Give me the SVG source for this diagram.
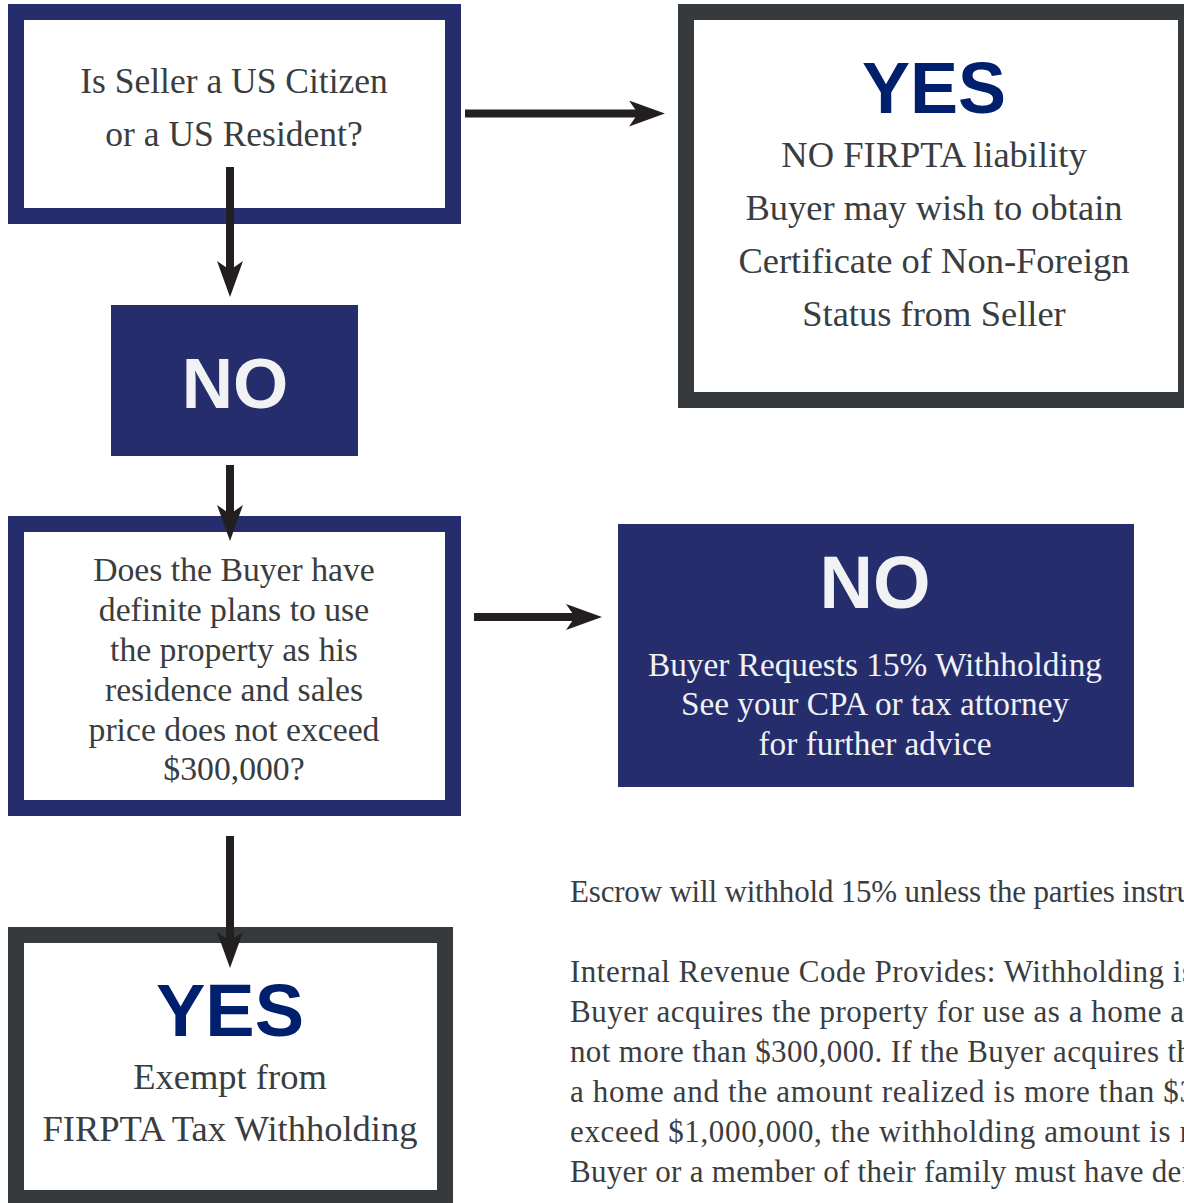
<svg xmlns="http://www.w3.org/2000/svg" width="1184" height="1203" viewBox="0 0 1184 1203">
<style>
.navybox{fill:#fff;stroke:#252d6c;stroke-width:16}
.graybox{fill:#fff;stroke:#363a3d;stroke-width:16}
.navyfill{fill:#252d6c}
.t{font-family:"Liberation Serif",serif;fill:#3a3d40;text-anchor:middle}
.w{font-family:"Liberation Serif",serif;fill:#f1f2f4;text-anchor:middle}
.big{font-family:"Liberation Sans",Arial,sans-serif;font-weight:bold;text-anchor:middle}
.p{font-family:"Liberation Serif",serif;fill:#3a3d40;font-size:31px}
.conn{stroke:#231f20;stroke-width:8;fill:none}
</style>
<defs>
<marker id="ah" viewBox="0 0 36 26" refX="9" refY="13" markerWidth="36" markerHeight="26" markerUnits="userSpaceOnUse" orient="auto">
<path d="M0,0 L36,13 L0,26 L9,13 Z" fill="#231f20"/>
</marker>
</defs>
<rect width="1184" height="1203" fill="#fff"/>

<g id="q1">
<rect class="navybox" x="16" y="12" width="437" height="204"/>
<text class="t" x="234" y="93" font-size="35.5">Is Seller a US Citizen</text>
<text class="t" x="234" y="146" font-size="35.5">or a US Resident?</text>
</g>

<g id="yes1">
<rect class="graybox" x="686" y="12" width="500" height="388"/>
<text class="big" x="934" y="113" font-size="72" fill="#00206e">YES</text>
<text class="t" x="934" y="167" font-size="36.5">NO FIRPTA liability</text>
<text class="t" x="934" y="220" font-size="36.5">Buyer may wish to obtain</text>
<text class="t" x="934" y="273" font-size="36.5">Certificate of Non-Foreign</text>
<text class="t" x="934" y="326" font-size="36.5">Status from Seller</text>
</g>

<g id="no1">
<rect class="navyfill" x="111" y="305" width="247" height="151"/>
<text class="big" x="235" y="408" font-size="71" fill="#f1f2f4">NO</text>
</g>

<g id="q2">
<rect class="navybox" x="16" y="524" width="437" height="284"/>
<text class="t" x="234" y="581" font-size="33.7">Does the Buyer have</text>
<text class="t" x="234" y="621" font-size="33.7">definite plans to use</text>
<text class="t" x="234" y="661" font-size="33.7">the property as his</text>
<text class="t" x="234" y="701" font-size="33.7">residence and sales</text>
<text class="t" x="234" y="741" font-size="33.7">price does not exceed</text>
<text class="t" x="234" y="780" font-size="33.7">$300,000?</text>
</g>

<g id="no2">
<rect class="navyfill" x="618" y="524" width="516" height="263"/>
<text class="big" x="875" y="608" font-size="74" fill="#f1f2f4">NO</text>
<text class="w" x="875" y="676" font-size="33.3">Buyer Requests 15% Withholding</text>
<text class="w" x="875" y="715" font-size="33.3">See your CPA or tax attorney</text>
<text class="w" x="875" y="755" font-size="33.3">for further advice</text>
</g>

<g id="yes2">
<rect class="graybox" x="16" y="935" width="429" height="263"/>
<text class="big" x="230" y="1036" font-size="74" fill="#00206e">YES</text>
<text class="t" x="230" y="1089" font-size="36.5">Exempt from</text>
<text class="t" x="230" y="1141" font-size="36.5">FIRPTA Tax Withholding</text>
</g>

<g id="note">
<text class="p" x="570" y="902" textLength="622">Escrow will withhold 15% unless the parties instru</text>
<text class="p" x="570" y="982" textLength="624">Internal Revenue Code Provides: Withholding is</text>
<text class="p" x="570" y="1022" textLength="614">Buyer acquires the property for use as a home a</text>
<text class="p" x="570" y="1062" textLength="622">not more than $300,000. If the Buyer acquires th</text>
<text class="p" x="570" y="1102" textLength="625">a home and the amount realized is more than $3</text>
<text class="p" x="570" y="1142" textLength="620">exceed $1,000,000, the withholding amount is r</text>
<text class="p" x="570" y="1182" textLength="622">Buyer or a member of their family must have def</text>
</g>

<g id="connectors">
<line class="conn" x1="465" y1="113.5" x2="638" y2="113.5" marker-end="url(#ah)"/>
<line class="conn" x1="230" y1="167" x2="230" y2="270" marker-end="url(#ah)"/>
<line class="conn" x1="230" y1="465" x2="230" y2="514" marker-end="url(#ah)"/>
<line class="conn" x1="474" y1="617" x2="575" y2="617" marker-end="url(#ah)"/>
<line class="conn" x1="230" y1="836" x2="230" y2="941" marker-end="url(#ah)"/>
</g>
</svg>
